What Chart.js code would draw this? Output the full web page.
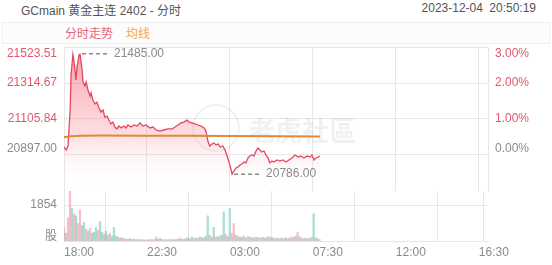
<!DOCTYPE html>
<html>
<head>
<meta charset="utf-8">
<script src="https://cdn.jsdelivr.net/npm/chart.js@4"></script>
<style>
  body { margin: 0; background: #fff; }
  #wrap { position: relative; width: 552px; height: 265px; overflow: hidden; font-family: "Liberation Sans", Arial, "Noto Sans CJK SC", sans-serif; }
  #title { position: absolute; left: 21px; top: 1px; font-size: 12px; color: #555; }
  #stamp { position: absolute; right: 16px; top: 1px; font-size: 12px; color: #555; word-spacing: 3px; }
  #tabs { position: absolute; left: 2px; right: 2px; top: 22px; height: 22px; background: #fcfcfc; border: 1px solid #f0f0f0; box-sizing: border-box; }
  #tabs span { position: absolute; top: 3px; font-size: 12px; font-family: "Noto Sans CJK SC", sans-serif; line-height: 14px; }
  #priceCanvas { position: absolute; left: 0; top: 0; }
  #volCanvas { position: absolute; left: 0; top: 191px; }
</style>
</head>
<body>
<div id="wrap">
  <div id="title">GCmain 黄金主连 2402 - 分时</div>
  <div id="stamp">2023-12-04 20:50:19</div>
  <div id="tabs">
    <span style="left:62px;color:#e8637a">分时走势</span>
    <span style="left:123px;color:#f0a848">均线</span>
  </div>
  <canvas id="priceCanvas" width="552" height="196"></canvas>
  <canvas id="volCanvas" width="552" height="74"></canvas>
</div>
<script>
// --- Data (minutes after 18:00) ---
const priceTimes = [0, 7, 13, 20, 23, 29, 33, 39, 42, 49, 52, 59, 62, 68, 72, 78, 85, 88, 94, 101,
  107, 114, 120, 127, 133, 140, 146, 153, 159, 166, 172, 179, 186, 195, 202, 208, 218, 228, 238, 247,
  257, 267, 280, 290, 299, 312, 325, 338, 352, 361, 371, 381, 390, 400, 407, 417, 426, 436, 446, 456,
  462, 469, 475, 482, 488, 495, 501, 508, 517, 524, 531, 537, 544, 547, 553, 560, 566, 573, 579, 586,
  592, 599, 605, 612, 618, 625, 631, 638, 644, 651, 657, 664, 670, 677, 683, 693, 703, 713, 723, 732,
  742, 752, 762, 771, 781, 791, 801, 807, 814, 820, 827, 833];
const prices = [20943, 20926, 20949, 21158, 21361, 21480, 21436, 21332, 21402, 21477, 21485, 21390, 21320, 21297, 21320, 21274, 21239, 21257, 21216, 21193,
  21204, 21170, 21146, 21158, 21117, 21123, 21100, 21077, 21088, 21059, 21048, 21065, 21054, 21065, 21054, 21071, 21059, 21071, 21065, 21083,
  21065, 21071, 21054, 21059, 21042, 21036, 21042, 21048, 21048, 21059, 21071, 21083, 21088, 21100, 21088, 21083, 21077, 21071, 21065, 21054,
  21036, 20972, 20949, 20961, 20967, 20955, 20961, 20943, 20949, 20926, 20891, 20856, 20810, 20786, 20804, 20822, 20827, 20839, 20845, 20856,
  20851, 20880, 20891, 20897, 20891, 20920, 20938, 20926, 20914, 20920, 20897, 20880, 20851, 20862, 20856, 20868, 20862, 20868, 20856, 20868,
  20880, 20897, 20885, 20891, 20880, 20891, 20885, 20897, 20868, 20880, 20885, 20891];

const avgTimes = [0, 20, 60, 120, 240, 400, 540, 700, 833];
const avgPrices = [21000, 21006, 21009, 21010, 21009, 21008, 21007, 21006, 21005];

const priceTicks = [20897.00, 21105.84, 21314.67, 21523.51];
const pctTicks = [0, 1, 2, 3];

const timeTicks = [0, 270, 540, 810, 1080, 1350];
const timeLabels = ["18:00", "22:30", "03:00", "07:30", "12:00", "16:30"];

const volValues = [700, 400, 1200, 2700, 1700, 1400, 1300, 900, 1600, 800, 950, 600, 500, 650, 400, 450, 700, 550, 1000, 450,
  350, 500, 300, 400, 250, 700, 250, 200, 150, 180, 120, 100, 90, 120, 80, 100, 70, 80, 60, 70,
  60, 50, 70, 60, 80, 60, 200, 90, 150, 80, 60, 70, 60, 80, 60, 70, 90, 80, 150, 100,
  90, 120, 180, 100, 200, 120, 150, 130, 200, 180, 150, 250, 1300, 300, 200, 700, 200, 220, 250, 300,
  1500, 350, 220, 1700, 400, 900, 300, 250, 200, 180, 250, 150, 220, 200, 180, 150, 200, 180, 150, 200,
  180, 150, 220, 200, 180, 150, 120, 150, 120, 150, 120, 180, 120, 150, 200, 180, 250, 450, 220, 150,
  120, 150, 120, 150, 200, 1400, 180, 120, 80];
const volDirs = [1, 0, 1, 1, 0, 1, 0, 1, 1, 0, 0, 1, 0, 1, 0, 0, 0, 1, 0, 0,
  1, 0, 0, 1, 0, 0, 0, 1, 0, 1, 0, 1, 0, 1, 1, 0, 1, 0, 1, 0,
  1, 1, 0, 1, 0, 1, 1, 0, 1, 0, 1, 0, 1, 0, 1, 0, 1, 0, 1, 0,
  1, 0, 0, 1, 0, 1, 0, 1, 0, 1, 0, 0, 0, 1, 0, 0, 1, 0, 1, 0,
  0, 1, 0, 0, 1, 1, 0, 1, 0, 1, 0, 1, 1, 0, 1, 0, 1, 0, 1, 1,
  0, 1, 0, 1, 0, 1, 1, 0, 1, 0, 1, 0, 1, 0, 1, 1, 0, 1, 1, 0,
  1, 0, 1, 0, 1, 0, 1, 0, 1];
const volStep = 6.5; // one bar every 6.5 minutes
const volTimes = volValues.map((_, i) => i * volStep);
const volTickValue = 1854;

const basePrice = priceTicks[0];
const sessionEnd = 1380;

// --- Shared style ---
const gridColor = "#e6e6e6";
const red = "#e3566e";
const gray = "#8a8a8a";
const numFont = '12px "Liberation Sans", Arial, sans-serif';

const fixWidth = (w) => (scale) => { scale.width = w; };
const fixHeight = (h) => (scale) => { scale.height = h; };
const xGridTicks = (scale) => {
  scale.ticks = timeTicks.concat([sessionEnd]).map((v) => ({ value: v }));
};

// --- Labels / markers for the price panel ---
const priceLabels = {
  id: "priceLabels",
  beforeDatasetsDraw(chart) {
    const { ctx } = chart;
    // faint watermark
    ctx.save();
    ctx.strokeStyle = "rgba(0,0,0,0.055)";
    ctx.lineWidth = 2;
    ctx.beginPath();
    ctx.arc(216, 128, 23, 0, Math.PI * 2);
    ctx.stroke();
    ctx.fillStyle = "rgba(0,0,0,0.055)";
    ctx.font = 'bold 27px "Noto Sans CJK TC", sans-serif';
    ctx.textBaseline = "middle";
    ctx.fillText("老虎社區", 248, 131);
    ctx.restore();
  },
  afterDraw(chart) {
    const { ctx, scales: { x, y, y2 } } = chart;
    ctx.save();
    ctx.font = numFont;
    ctx.textBaseline = "middle";
    priceTicks.forEach((v, i) => {
      let py = y.getPixelForValue(v);
      if (i === 0) py -= 6;
      if (i === priceTicks.length - 1) py += 7;
      ctx.fillStyle = i === 0 ? gray : red;
      ctx.textAlign = "right";
      ctx.fillText(v.toFixed(2), 57, py);
    });
    pctTicks.forEach((v, i) => {
      let py = y2.getPixelForValue(v);
      if (i === 0) py -= 6;
      if (i === pctTicks.length - 1) py += 7;
      ctx.fillStyle = i === 0 ? gray : red;
      ctx.textAlign = "left";
      ctx.fillText(v.toFixed(2) + "%", 495, py);
    });

    // high / low markers
    const hi = prices.indexOf(Math.max(...prices));
    const lo = prices.indexOf(Math.min(...prices));
    [hi, lo].forEach((idx) => {
      const px = x.getPixelForValue(priceTimes[idx]);
      const py = y.getPixelForValue(prices[idx]);
      ctx.strokeStyle = gray;
      ctx.lineWidth = 1.5;
      ctx.setLineDash([4, 3]);
      ctx.beginPath();
      ctx.moveTo(px + 2, py);
      ctx.lineTo(px + 28, py);
      ctx.stroke();
      ctx.setLineDash([]);
      ctx.fillStyle = gray;
      ctx.textAlign = "left";
      ctx.fillText(prices[idx].toFixed(2), px + 34, py);
    });
    ctx.restore();
  }
};

new Chart(document.getElementById("priceCanvas"), {
  type: "line",
  data: {
    datasets: [
      {
        data: priceTimes.map((t, i) => ({ x: t, y: prices[i] })),
        borderColor: "#e8455f",
        borderWidth: 1.3,
        pointRadius: 0,
        tension: 0,
        fill: "start",
        backgroundColor: (c) => {
          const area = c.chart.chartArea;
          if (!area) return "rgba(240,100,120,0.3)";
          const g = c.chart.ctx.createLinearGradient(0, area.top, 0, area.bottom);
          g.addColorStop(0, "rgba(240,80,100,0.55)");
          g.addColorStop(0.6, "rgba(245,120,135,0.25)");
          g.addColorStop(1, "rgba(255,255,255,0)");
          return g;
        },
        order: 1
      },
      {
        data: avgTimes.map((t, i) => ({ x: t, y: avgPrices[i] })),
        borderColor: "#e0883a",
        borderWidth: 2,
        pointRadius: 0,
        fill: false,
        order: 0
      }
    ]
  },
  options: {
    responsive: false,
    animation: false,
    events: [],
    layout: { padding: { top: 47, bottom: 5, left: 0, right: 0 } },
    plugins: { legend: { display: false }, tooltip: { enabled: false } },
    scales: {
      x: {
        type: "linear",
        min: 0,
        max: sessionEnd,
        afterBuildTicks: xGridTicks,
        afterFit: fixHeight(0),
        ticks: { display: false },
        grid: { color: gridColor, drawTicks: false },
        border: { display: false }
      },
      y: {
        position: "left",
        min: basePrice - (priceTicks[1] - priceTicks[0]),
        max: priceTicks[priceTicks.length - 1],
        afterBuildTicks: (s) => { s.ticks = priceTicks.map((v) => ({ value: v })); },
        afterFit: fixWidth(64),
        ticks: { display: false },
        grid: { color: gridColor, drawTicks: false },
        border: { color: gridColor }
      },
      y2: {
        position: "right",
        min: -1,
        max: 3,
        afterFit: fixWidth(64),
        ticks: { display: false },
        grid: { display: false, drawTicks: false },
        border: { color: gridColor }
      }
    }
  },
  plugins: [priceLabels]
});

// --- Volume panel ---
const volLabels = {
  id: "volLabels",
  afterDraw(chart) {
    const { ctx, scales: { y } } = chart;
    ctx.save();
    ctx.fillStyle = gray;
    ctx.textAlign = "right";
    ctx.textBaseline = "middle";
    ctx.font = numFont;
    ctx.fillText(String(volTickValue), 57, y.getPixelForValue(volTickValue));
    ctx.font = '12px "Noto Sans CJK SC", sans-serif';
    ctx.fillText("股", 57, y.getPixelForValue(0) - 6);
    ctx.restore();
  }
};

new Chart(document.getElementById("volCanvas"), {
  type: "bar",
  data: {
    datasets: [{
      data: volTimes.map((t, i) => ({ x: t, y: volValues[i] })),
      backgroundColor: volDirs.map((d) => d ? "rgba(238,140,158,0.55)" : "rgba(90,185,170,0.5)"),
      barThickness: 1.6
    }]
  },
  options: {
    responsive: false,
    animation: false,
    events: [],
    layout: { padding: { top: 0, bottom: 0, left: 0, right: 64 } },
    plugins: { legend: { display: false }, tooltip: { enabled: false } },
    scales: {
      x: {
        type: "linear",
        min: 0,
        max: sessionEnd,
        offset: false,
        afterBuildTicks: xGridTicks,
        afterFit: fixHeight(24),
        ticks: {
          align: "start",
          padding: 4,
          color: gray,
          font: { family: '"Liberation Sans", Arial, sans-serif', size: 12 },
          callback: (v) => {
            const i = timeTicks.indexOf(v);
            return i >= 0 ? timeLabels[i] : "";
          }
        },
        grid: { color: gridColor, drawTicks: false },
        border: { color: gridColor }
      },
      y: {
        min: 0,
        max: 2575,
        afterBuildTicks: (s) => { s.ticks = [{ value: volTickValue }]; },
        afterFit: fixWidth(64),
        ticks: { display: false },
        grid: { color: gridColor, drawTicks: false },
        border: { color: gridColor }
      }
    }
  },
  plugins: [volLabels]
});
</script>
</body>
</html>
